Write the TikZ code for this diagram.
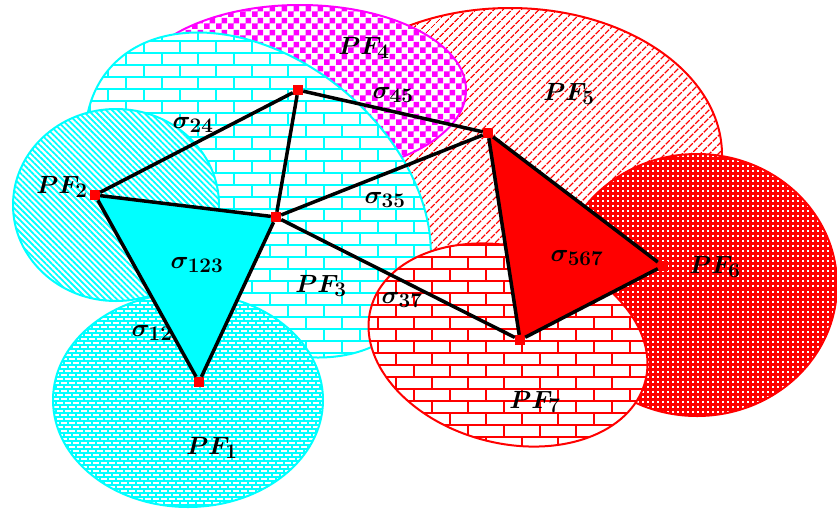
\documentclass[tikz,border=0pt]{standalone}
\usetikzlibrary{patterns,patterns.meta,backgrounds}

\definecolor{fieldcyan}{RGB}{0,255,255}
\definecolor{fieldmagenta}{RGB}{255,0,255}
\definecolor{fieldred}{RGB}{255,0,0}

% textures of the place fields
\pgfdeclarepatternformonly{bigbricks}{\pgfqpoint{-2pt}{-2pt}}{\pgfqpoint{38pt}{26pt}}{\pgfqpoint{36pt}{24pt}}{%
  \pgfsetlinewidth{2.6pt}%
  \pgfpathmoveto{\pgfqpoint{-2pt}{0pt}}\pgfpathlineto{\pgfqpoint{38pt}{0pt}}%
  \pgfpathmoveto{\pgfqpoint{-2pt}{12pt}}\pgfpathlineto{\pgfqpoint{38pt}{12pt}}%
  \pgfpathmoveto{\pgfqpoint{0pt}{0pt}}\pgfpathlineto{\pgfqpoint{0pt}{12pt}}%
  \pgfpathmoveto{\pgfqpoint{18pt}{12pt}}\pgfpathlineto{\pgfqpoint{18pt}{24pt}}%
  \pgfusepath{stroke}}
\pgfdeclarepatternformonly{smallbricks}{\pgfqpoint{-1pt}{-1pt}}{\pgfqpoint{9pt}{9pt}}{\pgfqpoint{8pt}{8pt}}{%
  \pgfsetlinewidth{2.2pt}%
  \pgfpathmoveto{\pgfqpoint{-1pt}{0pt}}\pgfpathlineto{\pgfqpoint{9pt}{0pt}}%
  \pgfpathmoveto{\pgfqpoint{-1pt}{4pt}}\pgfpathlineto{\pgfqpoint{9pt}{4pt}}%
  \pgfpathmoveto{\pgfqpoint{0pt}{0pt}}\pgfpathlineto{\pgfqpoint{0pt}{4pt}}%
  \pgfpathmoveto{\pgfqpoint{4pt}{4pt}}\pgfpathlineto{\pgfqpoint{4pt}{8pt}}%
  \pgfusepath{stroke}}
\pgfdeclarepatternformonly{holegrid}{\pgfqpoint{-2pt}{-2pt}}{\pgfqpoint{7pt}{7pt}}{\pgfqpoint{5pt}{5pt}}{%
  \pgfsetlinewidth{3pt}%
  \pgfpathmoveto{\pgfqpoint{-2pt}{0pt}}\pgfpathlineto{\pgfqpoint{7pt}{0pt}}%
  \pgfpathmoveto{\pgfqpoint{0pt}{-2pt}}\pgfpathlineto{\pgfqpoint{0pt}{7pt}}%
  \pgfusepath{stroke}}
\pgfdeclarepatternformonly{bigchecker}{\pgfpointorigin}{\pgfqpoint{12pt}{12pt}}{\pgfqpoint{12pt}{12pt}}{%
  \pgfpathrectangle{\pgfpointorigin}{\pgfqpoint{6pt}{6pt}}%
  \pgfpathrectangle{\pgfqpoint{6pt}{6pt}}{\pgfqpoint{6pt}{6pt}}%
  \pgfusepath{fill}}

\begin{document}
\begin{tikzpicture}[
    x=1pt, y=-1pt,
    vertex/.style={rectangle, fill=fieldred, minimum size=10pt, inner sep=0pt},
    edge/.style={line width=3.5pt},
    lab/.style={font=\Huge\boldmath, inner sep=0pt},
    pfield/.style={draw=#1, line width=2pt, pattern color=#1, preaction={fill=white}}
]
    \useasboundingbox (0,0) rectangle (837,509);

    % Vertices
    \node[vertex] (v1) at (199,382) {};
    \node[vertex] (v2) at (95,195) {};
    \node[vertex] (v3) at (276,217) {};
    \node[vertex] (v4) at (298,90) {};
    \node[vertex] (v5) at (488,133) {};
    \node[vertex] (v6) at (663,266) {};
    \node[vertex] (v7) at (520,340) {};

    \begin{scope}[on background layer]
        % Place fields
        \path[pfield=fieldred, pattern={Lines[angle=45, distance=6.4pt, line width=1.6pt]}] (510,155) ellipse [x radius=212, y radius=147];
        \path[pfield=fieldmagenta, pattern=bigchecker] (300,90) ellipse [x radius=166, y radius=85];
        \path[pfield=fieldcyan, pattern=bigbricks, rotate around={-40:(258,195)}] (258,195) ellipse [x radius=195, y radius=135];
        \path[pfield=fieldcyan, pattern={Lines[angle=-45, distance=4.2pt, line width=1.8pt]}] (116,205) ellipse [x radius=103, y radius=96];
        \path[pfield=fieldcyan, pattern=smallbricks] (188,400) ellipse [x radius=135, y radius=107];
        \path[pfield=fieldred, pattern=holegrid] (697,285) ellipse [x radius=140, y radius=131];
        \path[pfield=fieldred, pattern=bigbricks, rotate around={-15:(508,345)}] (508,345) ellipse [x radius=142, y radius=98];

        % Filled simplices
        \fill[fieldcyan] (v1.center) -- (v2.center) -- (v3.center) -- cycle;
        \fill[fieldred] (v5.center) -- (v6.center) -- (v7.center) -- cycle;
    \end{scope}

    % Edges
    \draw[edge] (v1) -- (v2);
    \draw[edge] (v1) -- (v3);
    \draw[edge] (v2) -- (v3);
    \draw[edge] (v2) -- (v4);
    \draw[edge] (v3) -- (v4);
    \draw[edge] (v4) -- (v5);
    \draw[edge] (v3) -- (v5);
    \draw[edge] (v3) -- (v7);
    \draw[edge] (v5) -- (v6);
    \draw[edge] (v5) -- (v7);
    \draw[edge] (v6) -- (v7);

    % Simplex labels
    \node[lab] (s123) at (197,265) {$\sigma_{123}$};
    \node[lab] (s12) at (152,333) {$\sigma_{12}$};
    \node[lab] (s24) at (193,125) {$\sigma_{24}$};
    \node[lab] (s45) at (393,95) {$\sigma_{45}$};
    \node[lab] (s35) at (385,200) {$\sigma_{35}$};
    \node[lab] (s37) at (402,300) {$\sigma_{37}$};
    \node[lab] (s567) at (577,258) {$\sigma_{567}$};

    % Field labels
    \node[lab] (pf1) at (212,448) {$PF_1$};
    \node[lab] (pf2) at (62,187) {$PF_2$};
    \node[lab] (pf3) at (321,286) {$PF_3$};
    \node[lab] (pf4) at (364,48) {$PF_4$};
    \node[lab] (pf5) at (569,94) {$PF_5$};
    \node[lab] (pf6) at (715,267) {$PF_6$};
    \node[lab] (pf7) at (535,402) {$PF_7$};

\end{tikzpicture}
\end{document}
